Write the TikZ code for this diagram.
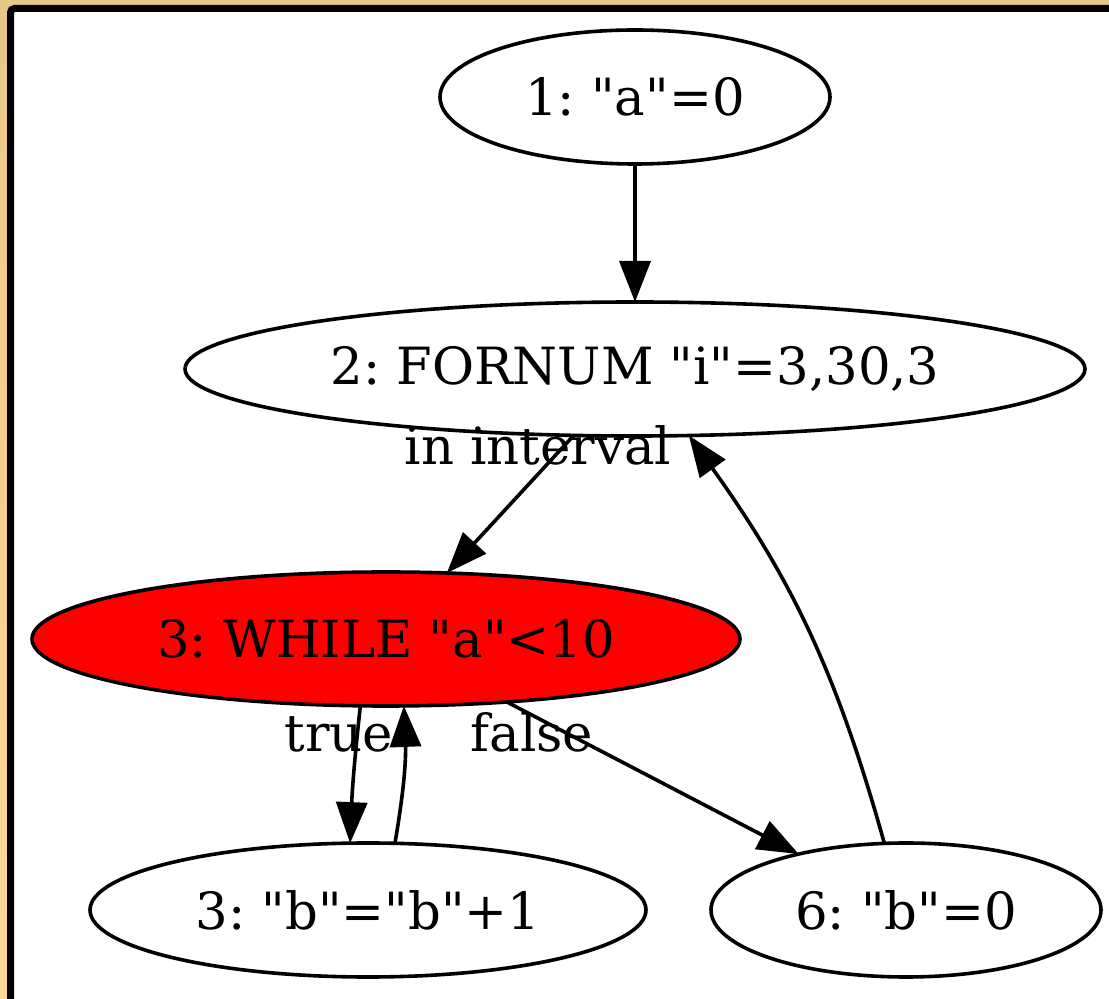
\documentclass[tikz,border=0pt]{standalone}
\usepackage{fontspec}
\setmainfont{DejaVu Serif}[Ligatures=TeXOff]
\usetikzlibrary{shapes.geometric,arrows.meta}
\definecolor{tanA}{HTML}{E8C888}
\definecolor{tanB}{HTML}{FFD999}
\frenchspacing
\begin{document}
\begin{tikzpicture}[x=1pt,y=1pt,
  font=\fontsize{51.3}{60}\selectfont,
  state/.style={ellipse, draw, line width=3.6pt, fill=white, inner sep=0pt, outer sep=0pt, minimum height=134pt},
  edge/.style={line width=3.6pt, -{Triangle[length=41pt,width=31pt]}},
  elabel/.style={inner sep=0pt, outer sep=0pt, anchor=base}]
\useasboundingbox (0,0) rectangle (1109,999);
\clip (0,0) rectangle (1109,999);
\shade[top color=tanA, bottom color=tanB] (0,0) rectangle (1109,999);
\draw[line width=7pt, rounded corners=4pt, fill=white] (10.5,990.5) rectangle (1200,-100);

\node[state, minimum width=390pt] (n1) at (635,902) {1: "a"=0};
\node[state, minimum width=900pt] (n2) at (635,630) {2: FORNUM "i"=3,30,3};
\node[state, minimum width=708pt, fill=red] (n3) at (386,360) {3: WHILE "a"<10};
\node[state, minimum width=556pt] (n4) at (368,89) {3: "b"="b"+1};
\node[state, minimum width=390pt] (n6) at (906,89) {6: "b"=0};

\draw[edge] (n1) -- (n2);
\draw[edge] (n2) -- (n3);
\draw[edge] (n3.249) to[bend right=2] (n4.105);
\draw[edge] (n4.68) to[bend right=6] (n3.285);
\draw[edge] (n3) -- (n6);
\draw[edge] (n6.108) to[bend right=10] (n2.309);

\node[elabel] (l1) at (538,534) {in interval};
\node[elabel] (l2) at (339,247) {true};
\node[elabel] (l3) at (532,247) {false};
\end{tikzpicture}
\end{document}
